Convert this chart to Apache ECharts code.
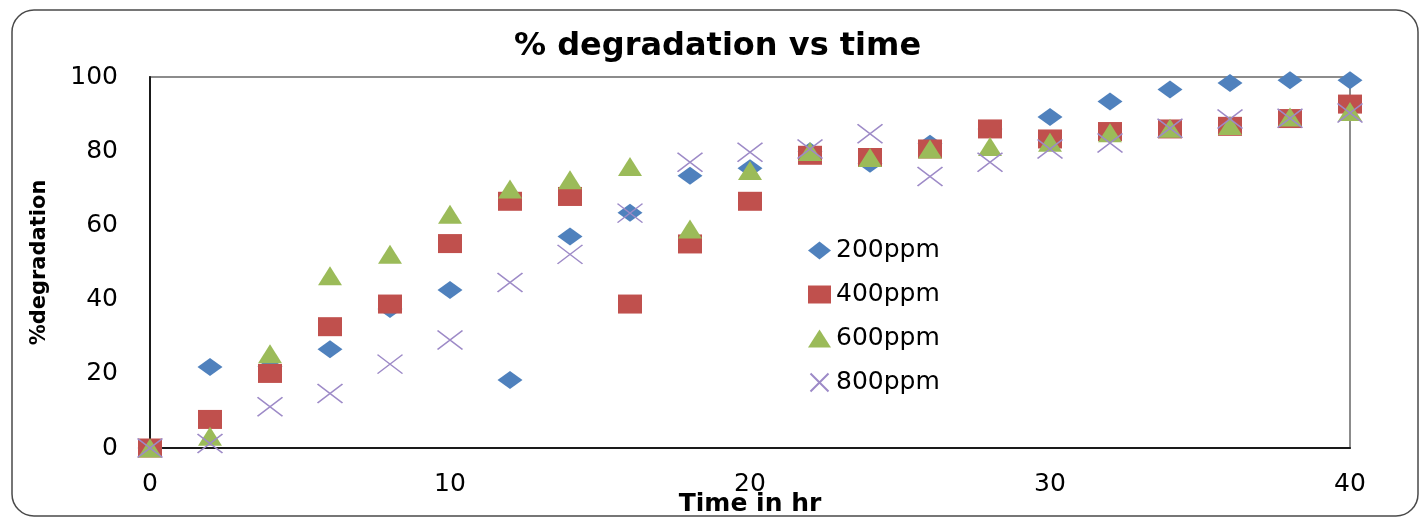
<!DOCTYPE html>
<html>
<head>
<meta charset="utf-8">
<script src="https://cdn.jsdelivr.net/npm/echarts@6/dist/echarts.min.js"></script>
<style>html,body{margin:0;padding:0;background:#fff;}#chart{width:1421px;height:517px;}</style>
</head>
<body>
<div id="chart"></div>
<script>
var timeHr = [0, 2, 4, 6, 8, 10, 12, 14, 16, 18, 20, 22, 24, 26, 28, 30, 32, 34, 36, 38, 40];
var ppm200 = [0, 21.8, 22, 26.6, 37.5, 42.6, 18.3, 57.0, 63.4, 73.4, 75.4, 80, 76.6, 82, 86, 89.2, 93.4, 96.6, 98.4, 99.1, 99.1];
var ppm400 = [0, 7.7, 20.1, 32.7, 38.8, 55.1, 66.5, 67.8, 38.8, 55.0, 66.5, 78.9, 78.3, 80.6, 86.0, 83.3, 85.3, 86.0, 86.7, 88.8, 92.7];
var ppm600 = [0, 3.2, 25.4, 46.4, 52.2, 63.0, 69.8, 72.3, 75.9, 59.0, 74.8, 79.9, 78.3, 80.6, 81.3, 82.4, 85.0, 86.2, 86.9, 89.2, 90.7];
var ppm800 = [0, 1.2, 11.1, 14.7, 22.6, 29.1, 44.6, 52.2, 63.3, 77.0, 79.7, 80.6, 84.7, 73.2, 77.0, 80.6, 82.2, 86.2, 88.7, 88.9, 90.3];
var seriesNames = ['200ppm', '400ppm', '600ppm', '800ppm'];

function pairs(ys) { return timeHr.map(function (t, i) { return [t, ys[i]]; }); }

var chart = echarts.init(document.getElementById('chart'));
var crossPath = 'path://M0,0L10,10M10,0L0,10';
chart.setOption({
  animation: false,
  backgroundColor: '#ffffff',
  graphic: [{
    type: 'rect', z: -10, silent: true,
    shape: { x: 12, y: 10, width: 1406, height: 506, r: 22 },
    style: { fill: 'none', stroke: '#4a4a4a', lineWidth: 1.5 }
  }],
  title: {
    text: '% degradation vs time',
    left: 514, top: 31, padding: 0,
    textStyle: { fontFamily: 'DejaVu Sans', fontWeight: 'bold', fontSize: 32, color: '#000' }
  },
  legend: {
    orient: 'vertical', left: 803, top: 233,
    itemWidth: 23, itemHeight: 18, itemGap: 19,
    textStyle: { fontFamily: 'DejaVu Sans', fontSize: 25, color: '#000', lineHeight: 25 },
    data: seriesNames
  },
  grid: { left: 150, right: 71, top: 77, bottom: 69, outerBoundsMode: 'none', containLabel: false,
    show: true, borderColor: '#8c8c8c', borderWidth: 2, backgroundColor: 'transparent' },
  xAxis: {
    type: 'value', min: 0, max: 40, interval: 10,
    name: 'Time in hr', nameLocation: 'middle', nameGap: 44, nameMoveOverlap: false,
    nameTextStyle: { fontFamily: 'DejaVu Sans', fontWeight: 'bold', fontSize: 25, color: '#000' },
    axisLine: { show: true, onZero: false, lineStyle: { color: '#1a1a1a', width: 2 } },
    axisTick: { show: false },
    splitLine: { show: false },
    axisLabel: { margin: 24, fontFamily: 'DejaVu Sans', fontSize: 25, color: '#000' }
  },
  yAxis: {
    type: 'value', min: 0, max: 100, interval: 20,
    name: '%degradation', nameLocation: 'middle', nameGap: 100, nameRotate: 90, nameMoveOverlap: false,
    nameTextStyle: { fontFamily: 'DejaVu Sans', fontWeight: 'bold', fontSize: 21, color: '#000' },
    axisLine: { show: true, lineStyle: { color: '#1a1a1a', width: 2 } },
    axisTick: { show: false },
    splitLine: { show: false },
    axisLabel: { margin: 32, fontFamily: 'DejaVu Sans', fontSize: 25, color: '#000' }
  },
  series: [
    { name: seriesNames[0], type: 'scatter', clip: false, symbol: 'diamond', symbolSize: [25, 18],
      itemStyle: { color: '#4f81bd', opacity: 1 }, data: pairs(ppm200) },
    { name: seriesNames[1], type: 'scatter', clip: false, symbol: 'rect', symbolSize: [24, 19],
      itemStyle: { color: '#c0504d', opacity: 1 }, data: pairs(ppm400) },
    { name: seriesNames[2], type: 'scatter', clip: false, symbol: 'triangle', symbolSize: [24, 19],
      itemStyle: { color: '#9bbb59', opacity: 1 }, data: pairs(ppm600) },
    { name: seriesNames[3], type: 'scatter', clip: false, symbol: crossPath, symbolSize: [25, 19],
      itemStyle: { color: 'none', borderColor: '#9d8ac7', borderWidth: 1.5, opacity: 1 }, data: pairs(ppm800) }
  ]
});
</script>
</body>
</html>
